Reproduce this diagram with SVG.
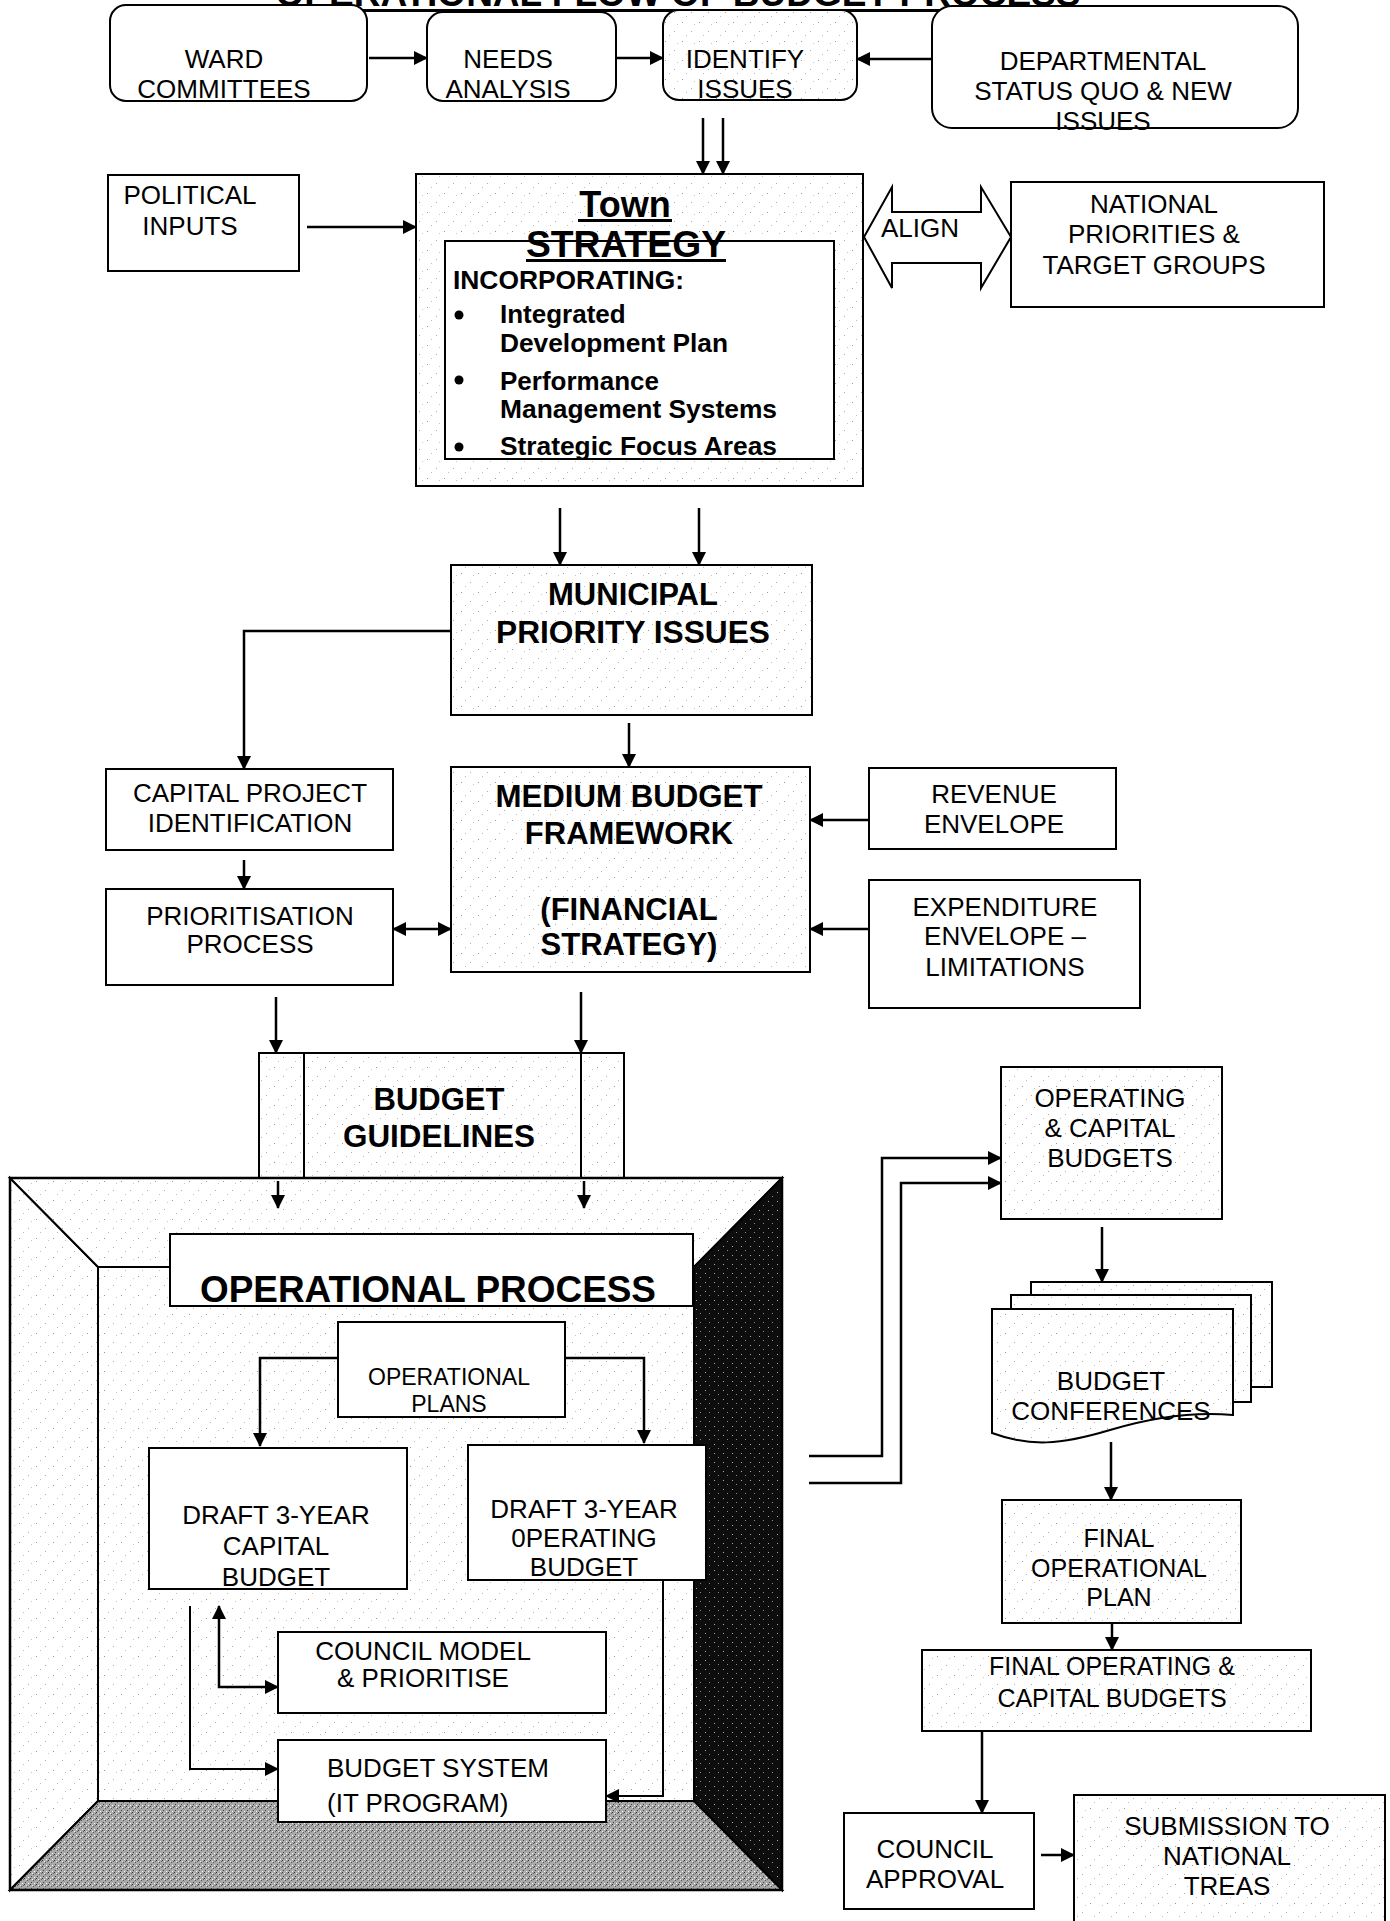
<svg xmlns="http://www.w3.org/2000/svg" width="1390" height="1921" viewBox="0 0 1390 1921">
<defs>
<style>
.t{font-family:"Liberation Sans",Arial,sans-serif;font-size:26px;text-anchor:middle;fill:#000}
.s{text-anchor:start}
.b{font-weight:bold}
.f36{font-size:36px}
.f31{font-size:31px}
.f25{font-size:25px}
.f23{font-size:23px}
.bx{fill:#fff;stroke:#000;stroke-width:2}
.st{fill:url(#stip);stroke:#000;stroke-width:2}
.c{fill:none;stroke:#000;stroke-width:2.5}
.ln{fill:none;stroke:#000;stroke-width:2}
</style>
<pattern id="stip" width="17" height="19" patternUnits="userSpaceOnUse">
<rect width="17" height="19" fill="#fff"/>
<rect x="2" y="3" width="1" height="1" fill="#999"/>
<rect x="11" y="12" width="1" height="1" fill="#aaa"/>
<rect x="6" y="16" width="1" height="1" fill="#bbb"/>
<rect x="14" y="5" width="1" height="1" fill="#c4c4c4"/>
</pattern>
<pattern id="floor" width="6" height="6" patternUnits="userSpaceOnUse">
<rect width="6" height="6" fill="#a8a8a8"/>
<rect x="0" y="0" width="1" height="1" fill="#333"/>
<rect x="3" y="2" width="1" height="1" fill="#555"/>
<rect x="1" y="4" width="1" height="1" fill="#444"/>
<rect x="4" y="5" width="1" height="1" fill="#fff"/>
<rect x="5" y="1" width="1" height="1" fill="#666"/>
<rect x="2" y="1" width="1" height="1" fill="#eee"/>
</pattern>
<pattern id="dark" width="9" height="9" patternUnits="userSpaceOnUse">
<rect width="9" height="9" fill="#0d0d0d"/>
<rect x="3" y="4" width="1" height="1" fill="#aaa"/>
<rect x="7" y="8" width="1" height="1" fill="#888"/>
</pattern>
<marker id="ah" viewBox="0 0 14 14" markerWidth="14" markerHeight="14" markerUnits="userSpaceOnUse" refX="13" refY="7" orient="auto-start-reverse">
<path d="M0,0 L14,7 L0,14 z" fill="#000"/>
</marker>
</defs>
<rect width="1390" height="1921" fill="#fff"/>

<g id="title">
<text class="t b f36" x="678" y="6" textLength="805" lengthAdjust="spacingAndGlyphs">OPERATIONAL FLOW OF BUDGET PROCESS</text>
<rect x="276" y="9" width="805" height="3" fill="#000"/>
</g>

<g id="ward">
<rect class="bx" x="110" y="5" width="257" height="96" rx="16"/>
<text class="t" x="224" y="68">WARD</text>
<text class="t" x="224" y="98">COMMITTEES</text>
</g>
<g id="needs">
<rect class="bx" x="427" y="12" width="189" height="89" rx="16"/>
<text class="t" x="508" y="68">NEEDS</text>
<text class="t" x="508" y="98">ANALYSIS</text>
</g>
<g id="identify">
<rect class="st" x="663" y="10" width="194" height="90" rx="16"/>
<text class="t" x="745" y="68">IDENTIFY</text>
<text class="t" x="745" y="98">ISSUES</text>
</g>
<g id="departmental">
<rect class="bx" x="932" y="6" width="366" height="122" rx="20"/>
<text class="t" x="1103" y="70">DEPARTMENTAL</text>
<text class="t" x="1103" y="100">STATUS QUO &amp; NEW</text>
<text class="t" x="1103" y="130">ISSUES</text>
</g>

<g id="political">
<rect class="bx" x="108" y="175" width="191" height="96"/>
<text class="t" x="190" y="204">POLITICAL</text>
<text class="t" x="190" y="235">INPUTS</text>
</g>

<g id="town">
<rect class="st" x="416" y="174" width="447" height="312"/>
<rect class="bx" x="445" y="241" width="389" height="218"/>
<text class="t b f36" x="625" y="217">Town</text>
<rect x="578" y="219" width="94" height="3" fill="#000"/>
<text class="t b f36" x="626" y="257" textLength="200" lengthAdjust="spacingAndGlyphs">STRATEGY</text>
<rect x="526" y="259" width="200" height="3" fill="#000"/>
<text class="t s b" x="453" y="289" textLength="231" lengthAdjust="spacingAndGlyphs">INCORPORATING:</text>
<circle cx="459" cy="315" r="4.5"/>
<circle cx="459" cy="380" r="4.5"/>
<circle cx="459" cy="447" r="4.5"/>
<text class="t s b" x="500" y="323">Integrated</text>
<text class="t s b" x="500" y="352" textLength="228" lengthAdjust="spacingAndGlyphs">Development Plan</text>
<text class="t s b" x="500" y="390">Performance</text>
<text class="t s b" x="500" y="418" textLength="277" lengthAdjust="spacingAndGlyphs">Management Systems</text>
<text class="t s b" x="500" y="455" textLength="277" lengthAdjust="spacingAndGlyphs">Strategic Focus Areas</text>
</g>

<g id="align">
<polygon points="864,237 892,187 892,212 981,212 981,187 1011,237 981,288 981,263 892,263 892,288" fill="#fff" stroke="#000" stroke-width="2"/>
<text class="t s f25" x="881" y="237" textLength="78" lengthAdjust="spacingAndGlyphs">ALIGN</text>
</g>

<g id="national">
<rect class="bx" x="1011" y="182" width="313" height="125"/>
<text class="t" x="1154" y="213">NATIONAL</text>
<text class="t" x="1154" y="243">PRIORITIES &amp;</text>
<text class="t" x="1154" y="274">TARGET GROUPS</text>
</g>

<g id="municipal">
<rect class="st" x="451" y="565" width="361" height="150"/>
<text class="t b f31" x="633" y="605">MUNICIPAL</text>
<text class="t b f31" x="633" y="643" textLength="274" lengthAdjust="spacingAndGlyphs">PRIORITY ISSUES</text>
</g>

<g id="capital-project">
<rect class="bx" x="106" y="769" width="287" height="81"/>
<text class="t" x="250" y="802">CAPITAL PROJECT</text>
<text class="t" x="250" y="832">IDENTIFICATION</text>
</g>
<g id="prioritisation">
<rect class="bx" x="106" y="889" width="287" height="96"/>
<text class="t" x="250" y="925">PRIORITISATION</text>
<text class="t" x="250" y="953">PROCESS</text>
</g>
<g id="medium">
<rect class="st" x="451" y="767" width="359" height="205"/>
<text class="t b f31" x="629" y="807" textLength="267" lengthAdjust="spacingAndGlyphs">MEDIUM BUDGET</text>
<text class="t b f31" x="629" y="844">FRAMEWORK</text>
<text class="t b f31" x="629" y="920">(FINANCIAL</text>
<text class="t b f31" x="629" y="955">STRATEGY)</text>
</g>
<g id="revenue">
<rect class="bx" x="869" y="768" width="247" height="81"/>
<text class="t" x="994" y="803">REVENUE</text>
<text class="t" x="994" y="833">ENVELOPE</text>
</g>
<g id="expenditure">
<rect class="bx" x="869" y="880" width="271" height="128"/>
<text class="t" x="1005" y="916">EXPENDITURE</text>
<text class="t" x="1005" y="945">ENVELOPE –</text>
<text class="t" x="1005" y="976">LIMITATIONS</text>
</g>

<g id="budget-guidelines">
<rect class="st" x="259" y="1053" width="365" height="125"/>
<line class="ln" x1="304" y1="1053" x2="304" y2="1178"/>
<line class="ln" x1="581" y1="1053" x2="581" y2="1178"/>
<text class="t b f31" x="439" y="1110">BUDGET</text>
<text class="t b f31" x="439" y="1147" textLength="192" lengthAdjust="spacingAndGlyphs">GUIDELINES</text>
</g>

<g id="operational-frame">
<rect x="98" y="1267" width="596" height="534" fill="url(#stip)"/>
<polygon points="10,1178 98,1267 98,1801 10,1890" fill="url(#stip)" stroke="#000" stroke-width="2"/>
<polygon points="10,1178 782,1178 694,1267 98,1267" fill="url(#stip)" stroke="#000" stroke-width="2"/>
<polygon points="782,1178 782,1890 694,1801 694,1267" fill="url(#dark)" stroke="#000" stroke-width="2"/>
<polygon points="98,1801 694,1801 782,1890 10,1890" fill="url(#floor)" stroke="#000" stroke-width="2"/>
<rect x="10" y="1178" width="772" height="712" fill="none" stroke="#000" stroke-width="2.5"/>
</g>

<g id="operational-process">
<rect class="bx" x="170" y="1234" width="523" height="72"/>
<text class="t b f36" x="428" y="1302" textLength="456" lengthAdjust="spacingAndGlyphs">OPERATIONAL PROCESS</text>
</g>
<g id="operational-plans">
<rect class="bx" x="338" y="1322" width="227" height="95"/>
<text class="t f23" x="449" y="1385">OPERATIONAL</text>
<text class="t f23" x="449" y="1412">PLANS</text>
</g>
<g id="draft-capital">
<rect class="bx" x="149" y="1448" width="258" height="141"/>
<text class="t" x="276" y="1524">DRAFT 3-YEAR</text>
<text class="t" x="276" y="1555">CAPITAL</text>
<text class="t" x="276" y="1586">BUDGET</text>
</g>
<g id="draft-operating">
<rect class="bx" x="468" y="1445" width="238" height="135"/>
<text class="t" x="584" y="1518">DRAFT 3-YEAR</text>
<text class="t" x="584" y="1547">0PERATING</text>
<text class="t" x="584" y="1576">BUDGET</text>
</g>
<g id="council-model">
<rect class="bx" x="278" y="1632" width="328" height="81"/>
<text class="t" x="423" y="1660">COUNCIL MODEL</text>
<text class="t" x="423" y="1687">&amp; PRIORITISE</text>
</g>
<g id="budget-system">
<rect class="bx" x="278" y="1740" width="328" height="82"/>
<text class="t" x="438" y="1777">BUDGET SYSTEM</text>
<text class="t s" x="327" y="1812">(IT PROGRAM)</text>
</g>

<g id="op-cap-budgets">
<rect class="st" x="1001" y="1067" width="221" height="152"/>
<text class="t" x="1110" y="1107">OPERATING</text>
<text class="t" x="1110" y="1137">&amp; CAPITAL</text>
<text class="t" x="1110" y="1167">BUDGETS</text>
</g>
<g id="budget-conferences">
<rect class="st" x="1031" y="1282" width="241" height="105"/>
<rect class="st" x="1011" y="1295" width="240" height="107"/>
<path class="st" d="M992,1309 H1233 V1415 C1200,1412 1160,1415 1110,1430 C1060,1445 1030,1447 992,1433 Z"/>
<text class="t" x="1111" y="1390">BUDGET</text>
<text class="t" x="1111" y="1420">CONFERENCES</text>
</g>
<g id="final-op-plan">
<rect class="st" x="1002" y="1500" width="239" height="123"/>
<text class="t f25" x="1119" y="1547">FINAL</text>
<text class="t f25" x="1119" y="1577">OPERATIONAL</text>
<text class="t f25" x="1119" y="1606">PLAN</text>
</g>
<g id="final-op-cap">
<rect class="st" x="922" y="1650" width="389" height="81"/>
<text class="t f25" x="1112" y="1675">FINAL OPERATING &amp;</text>
<text class="t f25" x="1112" y="1707">CAPITAL BUDGETS</text>
</g>
<g id="council-approval">
<rect class="bx" x="844" y="1813" width="190" height="96"/>
<text class="t" x="935" y="1858">COUNCIL</text>
<text class="t" x="935" y="1888">APPROVAL</text>
</g>
<g id="submission">
<rect class="st" x="1074" y="1795" width="311" height="135"/>
<text class="t" x="1227" y="1835">SUBMISSION TO</text>
<text class="t" x="1227" y="1865">NATIONAL</text>
<text class="t" x="1227" y="1895">TREAS</text>
</g>

<g id="connectors">
<path class="c" d="M369,58 H427" marker-end="url(#ah)"/>
<path class="c" d="M616,58 H663" marker-end="url(#ah)"/>
<path class="c" d="M932,59 H857" marker-end="url(#ah)"/>
<path class="c" d="M703,118 V174" marker-end="url(#ah)"/>
<path class="c" d="M723,118 V174" marker-end="url(#ah)"/>
<path class="c" d="M307,227 H416" marker-end="url(#ah)"/>
<path class="c" d="M560,508 V565" marker-end="url(#ah)"/>
<path class="c" d="M699,508 V565" marker-end="url(#ah)"/>
<path class="c" d="M451,631 H244 V769" marker-end="url(#ah)"/>
<path class="c" d="M629,723 V767" marker-end="url(#ah)"/>
<path class="c" d="M244,860 V889" marker-end="url(#ah)"/>
<path class="c" d="M393,929 H451" marker-start="url(#ah)" marker-end="url(#ah)"/>
<path class="c" d="M869,820 H810" marker-end="url(#ah)"/>
<path class="c" d="M869,929 H810" marker-end="url(#ah)"/>
<path class="c" d="M276,997 V1053" marker-end="url(#ah)"/>
<path class="c" d="M581,992 V1053" marker-end="url(#ah)"/>
<path class="c" d="M278,1181 V1208" marker-end="url(#ah)"/>
<path class="c" d="M584,1181 V1208" marker-end="url(#ah)"/>
<path class="c" d="M338,1358 H260 V1446" marker-end="url(#ah)"/>
<path class="c" d="M565,1358 H644 V1443" marker-end="url(#ah)"/>
<path class="ln" d="M190,1606 V1769 H278" marker-end="url(#ah)"/>
<path class="c" d="M219,1606 V1687 H278" marker-start="url(#ah)" marker-end="url(#ah)"/>
<path class="ln" d="M663,1580 V1796 H606" marker-end="url(#ah)"/>
<path class="c" d="M809,1456 H882 V1158 H1001" marker-end="url(#ah)"/>
<path class="c" d="M809,1483 H901 V1183 H1001" marker-end="url(#ah)"/>
<path class="c" d="M1102,1227 V1282" marker-end="url(#ah)"/>
<path class="c" d="M1111,1442 V1500" marker-end="url(#ah)"/>
<path class="c" d="M1112,1623 V1650" marker-end="url(#ah)"/>
<path class="c" d="M982,1731 V1813" marker-end="url(#ah)"/>
<path class="c" d="M1041,1855 H1074" marker-end="url(#ah)"/>
</g>
</svg>
